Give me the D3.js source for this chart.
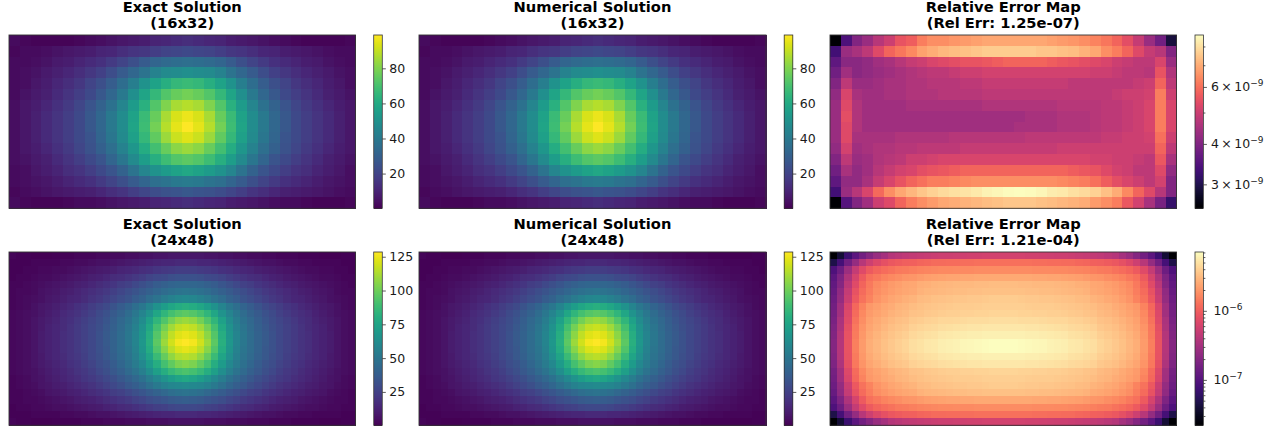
<!DOCTYPE html>
<html><head><meta charset="utf-8">
<script src="https://cdn.jsdelivr.net/npm/d3@7"></script>
<style>html,body{margin:0;padding:0;background:#fff}svg{display:block}text{font-family:"DejaVu Sans",sans-serif}</style>
</head><body><svg id="c" width="1280" height="429"></svg>
<script>
const titleExact="Exact Solution",titleNum="Numerical Solution",titleErr="Relative Error Map";
const sizeLabelTop="(16x32)",sizeLabelBottom="(24x48)";
const errLabelTop="(Rel Err: 1.25e-07)",errLabelBottom="(Rel Err: 1.21e-04)";

const exact16=[
[3,2,1,1,1,1,2,3,4,5,6,7,8,10,11,12,13,12,11,10,8,7,6,5,4,3,2,1,1,1,1,2],
[2,3,3,4,5,6,7,8,10,11,13,15,16,18,20,21,22,21,20,18,16,15,13,11,10,8,7,6,5,4,3,3],
[3,3,4,5,7,8,10,12,14,17,20,24,28,32,34,35,36,35,34,32,28,24,20,17,14,12,10,8,7,5,4,3],
[3,4,5,7,9,11,13,16,19,23,28,33,38,44,47,48,49,48,47,44,38,33,28,23,19,16,13,11,9,7,5,4],
[3,4,6,8,11,13,16,20,24,29,35,42,50,57,62,66,67,66,62,57,50,42,35,29,24,20,16,13,11,8,6,4],
[3,5,7,9,12,15,18,22,27,33,40,49,58,66,72,76,78,76,72,66,58,49,40,33,27,22,18,15,12,9,7,5],
[4,6,8,11,14,17,21,26,31,37,45,54,63,72,80,86,88,86,80,72,63,54,45,37,31,26,21,17,14,11,8,6],
[4,6,9,12,15,18,22,27,33,40,48,57,67,76,86,93,96,93,86,76,67,57,48,40,33,27,22,18,15,12,9,6],
[4,6,9,12,15,18,22,27,33,40,48,58,68,78,88,95,99,95,88,78,68,58,48,40,33,27,22,18,15,12,9,6],
[4,6,9,12,15,18,22,26,32,39,47,56,66,75,84,91,94,91,84,75,66,56,47,39,32,26,22,18,15,12,9,6],
[4,6,8,11,14,17,21,25,30,36,44,52,61,69,76,82,84,82,76,69,61,52,44,36,30,25,21,17,14,11,8,6],
[4,5,7,9,12,15,18,22,26,32,39,47,55,62,68,72,74,72,68,62,55,47,39,32,26,22,18,15,12,9,7,5],
[3,4,6,8,10,13,15,18,22,26,31,38,45,50,54,57,59,57,54,50,45,38,31,26,22,18,15,13,10,8,6,4],
[3,4,5,6,8,10,12,14,17,20,24,28,32,36,38,40,41,40,38,36,32,28,24,20,17,14,12,10,8,6,5,4],
[2,3,4,5,6,7,8,9,11,13,15,18,21,23,25,26,27,26,25,23,21,18,15,13,11,9,8,7,6,5,4,3],
[3,2,1,1,1,2,3,3,4,5,6,7,8,10,11,12,13,12,11,10,8,7,6,5,4,3,3,2,1,1,1,2]];
const numerical16=exact16;
const exactDomain16=[0.2,99];
const exactTicks16=[20,40,60,80];

const error16=[
[25,34,40,43,47,50,55,57,62,65,65,66,67,68,69,69,69,69,69,69,68,67,66,65,63,61,58,54,49,43,38,29],
[33,43,45,48,53,58,61,64,68,70,72,73,74,75,76,76,76,76,76,75,75,74,73,71,69,65,62,58,53,49,47,40],
[36,41,41,42,44,45,47,49,50,52,53,54,55,55,56,57,58,58,58,58,57,56,55,54,53,52,50,49,48,48,52,43],
[38,44,41,42,43,44,45,46,47,48,48,49,50,50,51,51,51,51,51,51,51,51,51,51,50,50,49,48,48,47,55,46],
[40,48,43,43,44,45,45,46,46,47,47,47,48,48,49,49,49,49,49,49,49,49,48,48,48,48,48,48,49,50,58,48],
[42,52,45,44,44,45,45,46,46,46,47,47,47,47,48,48,48,48,48,48,48,48,48,48,48,48,49,50,50,51,62,50],
[43,53,46,44,44,44,44,45,45,45,45,45,45,45,46,46,46,46,46,46,46,47,47,47,47,48,48,49,50,52,62,52],
[43,54,46,44,44,44,44,44,44,44,44,44,44,44,44,44,44,44,45,45,45,46,46,46,47,48,48,49,50,52,62,52],
[43,53,46,44,44,44,44,44,44,44,44,44,44,44,44,44,44,45,45,45,45,46,46,46,47,48,48,49,50,52,62,52],
[43,53,45,45,45,45,46,46,46,46,46,47,47,47,47,47,47,47,48,48,48,48,48,48,48,49,49,50,50,51,60,50],
[42,51,44,45,46,46,47,47,48,48,48,48,49,49,49,49,49,49,49,49,49,50,50,50,50,50,50,50,50,50,58,48],
[40,48,43,44,46,47,48,50,50,51,52,52,52,52,52,52,52,52,52,52,52,52,52,52,51,51,50,50,49,48,56,45],
[38,45,42,44,47,49,51,52,54,55,56,57,58,58,58,58,58,58,58,58,58,58,57,56,55,53,51,50,48,48,53,42],
[36,42,42,45,49,52,55,58,60,62,62,63,64,65,65,65,65,65,65,65,65,64,63,62,60,57,54,52,50,48,51,40],
[33,43,47,52,59,65,69,72,75,77,79,80,81,82,84,85,86,87,86,85,83,82,80,79,77,74,70,64,58,53,47,40],
[25,35,40,44,50,53,58,62,65,67,69,70,71,72,73,74,75,75,75,74,73,72,71,70,67,65,62,56,51,45,39,32]];
const errorDomain16=[25.3,86.8];   // units of 1e-10
const errorMajor16=[[30,"3"],[40,"4"],[60,"6"]];
const errorMinor16=[50,70,80];

const exact24=[
[2,1,1,0.5,0.5,0.5,1,1,1,2,2,2,3,3,4,4,5,5,6,6,7,7,8,8,8,8,8,7,7,6,6,5,5,4,4,3,3,2,2,2,1,1,1,0.5,0.5,0.5,1,1],
[1,1,1,2,2,2,2,3,3,4,4,5,6,6,7,8,9,10,11,12,13,14,14,15,15,15,14,14,13,12,11,10,9,8,7,6,6,5,4,4,3,3,2,2,2,2,1,1],
[1,1,2,2,3,3,4,4,5,6,7,8,9,10,11,13,14,15,17,18,20,21,22,23,23,23,22,21,20,18,17,15,14,13,11,10,9,8,7,6,5,4,4,3,3,2,2,1],
[1,2,2,3,4,4,5,6,7,8,9,11,12,14,16,17,19,21,23,26,28,29,31,32,32,32,31,29,28,26,23,21,19,17,16,14,12,11,9,8,7,6,5,4,4,3,2,2],
[2,2,3,4,5,6,7,8,9,11,12,14,16,18,20,23,25,28,31,34,37,39,41,42,42,42,41,39,37,34,31,28,25,23,20,18,16,14,12,11,9,8,7,6,5,4,3,2],
[2,3,3,4,6,7,8,10,11,13,15,17,19,21,24,27,30,33,36,39,42,45,47,49,50,49,47,45,42,39,36,33,30,27,24,21,19,17,15,13,11,10,8,7,6,4,3,3],
[2,3,4,5,6,8,9,11,13,14,16,19,21,24,27,30,33,37,40,45,49,53,56,59,60,59,56,53,49,45,40,37,33,30,27,24,21,19,16,14,13,11,9,8,6,5,4,3],
[2,3,4,6,8,9,11,13,15,18,20,23,26,29,33,37,41,46,51,58,65,71,76,79,81,79,76,71,65,58,51,46,41,37,33,29,26,23,20,18,15,13,11,9,8,6,4,3],
[3,4,5,6,8,10,12,15,17,19,22,25,29,32,36,40,45,51,58,66,76,84,90,94,96,94,90,84,76,66,58,51,45,40,36,32,29,25,22,19,17,15,12,10,8,6,5,4],
[3,4,5,7,9,11,13,16,18,21,24,27,30,34,38,43,48,54,62,73,84,93,101,107,109,107,101,93,84,73,62,54,48,43,38,34,30,27,24,21,18,16,13,11,9,7,5,4],
[3,4,5,7,9,12,14,16,19,22,25,28,31,35,39,44,50,56,65,77,90,101,110,116,118,116,110,101,90,77,65,56,50,44,39,35,31,28,25,22,19,16,14,12,9,7,5,4],
[3,4,5,7,10,12,14,17,19,22,25,28,32,36,40,45,51,58,67,80,94,106,116,122,124,122,116,106,94,80,67,58,51,45,40,36,32,28,25,22,19,17,14,12,10,7,5,4],
[3,4,5,7,10,12,14,17,19,22,25,28,32,36,40,45,51,58,68,81,96,109,119,126,128,126,119,109,96,81,68,58,51,45,40,36,32,28,25,22,19,17,14,12,10,7,5,4],
[3,4,5,7,10,12,14,17,19,22,25,28,32,35,40,45,50,57,67,79,93,105,115,121,123,121,115,105,93,79,67,57,50,45,40,35,32,28,25,22,19,17,14,12,10,7,5,4],
[3,4,5,7,9,12,14,16,19,21,24,28,31,35,39,44,49,55,64,75,87,98,107,113,115,113,107,98,87,75,64,55,49,44,39,35,31,28,24,21,19,16,14,12,9,7,5,4],
[3,4,5,7,9,11,13,15,18,20,23,26,30,33,37,42,47,53,60,70,80,90,97,103,105,103,97,90,80,70,60,53,47,42,37,33,30,26,23,20,18,15,13,11,9,7,5,4],
[3,4,5,6,8,10,12,14,16,19,21,24,28,31,35,39,44,49,55,63,72,80,86,90,92,90,86,80,72,63,55,49,44,39,35,31,28,24,21,19,16,14,12,10,8,6,5,4],
[2,3,4,6,7,9,11,13,15,17,20,22,25,28,31,35,39,43,48,54,60,66,71,75,77,75,71,66,60,54,48,43,39,35,31,28,25,22,20,17,15,13,11,9,7,6,4,3],
[2,3,4,5,7,8,10,11,13,15,17,19,22,25,28,31,35,38,42,47,52,56,59,60,61,60,59,56,52,47,42,38,35,31,28,25,22,19,17,15,13,11,10,8,7,5,4,3],
[2,2,3,4,5,7,8,9,11,12,14,16,18,20,23,25,28,31,34,37,40,43,46,48,49,48,46,43,40,37,34,31,28,25,23,20,18,16,14,12,11,9,8,7,5,4,3,2],
[2,2,3,3,4,5,6,7,8,10,11,12,14,16,18,20,22,25,27,30,32,34,36,37,38,37,36,34,32,30,27,25,22,20,18,16,14,12,11,10,8,7,6,5,4,3,3,2],
[1,2,2,3,3,4,5,5,6,7,8,9,10,12,13,15,16,18,20,22,24,25,27,28,28,28,27,25,24,22,20,18,16,15,13,12,10,9,8,7,6,5,5,4,3,3,2,2],
[1,1,1,2,2,2,2,3,3,4,4,5,6,6,7,8,9,10,11,12,13,14,14,15,15,15,14,14,13,12,11,10,9,8,7,6,6,5,4,4,3,3,2,2,2,2,1,1],
[2,1,1,0.5,0.5,0.5,1,1,1,1,2,2,2,3,3,3,4,4,4,5,5,5,6,6,6,6,6,5,5,5,4,4,4,3,3,3,2,2,2,1,1,1,1,0.5,0.5,0.5,1,1]];
const numerical24=exact24;
const exactDomain24=[0.3,128.5];
const exactTicks24=[25,50,75,100,125];

const error24=[
[2.2,3.9,7,11,15,20,26,31,39,42,45,47,49,50,52,53,54,55,56,57,58,59,59,59,59,59,59,58,57,56,55,54,53,52,50,49,47,45,42,39,31,26,20,15,11,7,3.9,2.2],
[4.7,8,15,25,40,55,68,80,90,97,101,104,110,114,117,119,121,122,123,124,125,126,126,126,126,126,126,125,124,123,122,121,119,117,114,110,104,101,97,90,80,68,55,40,25,15,8,4.7],
[9,14,27,48,72,95,110,120,130,140,144,152,157,162,164,168,171,172,174,175,176,177,178,178,178,178,177,176,175,174,172,171,168,164,162,157,152,144,140,130,120,110,95,72,48,27,14,9],
[11,18,36,62,95,125,143,157,171,183,192,200,214,221,229,232,238,240,242,245,247,249,250,251,251,250,249,247,245,242,240,238,232,229,221,214,200,192,183,171,157,143,125,95,62,36,18,11],
[12,20,42,72,108,141,172,190,207,221,235,245,265,275,285,291,298,302,306,308,311,315,317,318,318,317,315,311,308,306,302,298,291,285,275,265,245,235,221,207,190,172,141,108,72,42,20,12],
[13,23,48,82,118,147,180,198,215,231,245,256,280,288,300,303,312,318,320,323,326,330,334,334,334,334,330,326,323,320,318,312,303,300,288,280,256,245,231,215,198,180,147,118,82,48,23,13],
[14,25,52,92,130,160,196,215,237,253,272,285,310,320,333,338,352,356,360,364,368,373,378,378,378,378,373,368,364,360,356,352,338,333,320,310,285,272,253,237,215,196,160,130,92,52,25,14],
[15,29,64,112,160,202,223,245,263,283,297,322,333,350,355,365,373,378,382,386,392,395,395,395,395,395,395,392,386,382,378,373,365,355,350,333,322,297,283,263,245,223,202,160,112,64,29,15],
[16,30,68,118,168,210,232,256,277,297,311,338,352,368,375,390,395,400,405,410,417,420,423,423,423,423,420,417,410,405,400,395,390,375,368,352,338,311,297,277,256,232,210,168,118,68,30,16],
[17,33,72,128,182,227,252,280,302,323,340,373,392,405,417,435,441,452,458,465,468,471,475,475,475,475,471,468,465,458,452,441,435,417,405,392,373,340,323,302,280,252,227,182,128,72,33,17],
[18,35,78,138,194,240,268,300,323,350,368,408,430,450,462,483,490,500,510,520,525,532,535,535,535,535,532,525,520,510,500,490,483,462,450,430,408,368,350,323,300,268,240,194,138,78,35,18],
[19,38,82,144,203,253,285,318,345,373,395,445,468,490,505,530,545,555,570,580,590,595,600,600,600,600,595,590,580,570,555,545,530,505,490,468,445,395,373,345,318,285,253,203,144,82,38,19],
[20,39,85,150,212,266,300,334,364,395,423,475,503,533,550,585,597,615,638,652,670,690,710,710,710,710,690,670,652,638,615,597,585,550,533,503,475,423,395,364,334,300,266,212,150,85,39,20],
[20,39,85,150,212,266,300,334,364,395,423,475,503,533,550,585,597,615,638,652,670,690,710,710,710,710,690,670,652,638,615,597,585,550,533,503,475,423,395,364,334,300,266,212,150,85,39,20],
[19,38,82,144,203,253,285,318,345,373,395,445,468,490,505,530,545,555,570,580,590,595,600,600,600,600,595,590,580,570,555,545,530,505,490,468,445,395,373,345,318,285,253,203,144,82,38,19],
[18,35,78,138,194,240,268,300,323,350,368,408,430,450,462,483,490,500,510,520,525,532,535,535,535,535,532,525,520,510,500,490,483,462,450,430,408,368,350,323,300,268,240,194,138,78,35,18],
[16,30,68,118,168,210,232,256,277,297,311,338,352,368,375,390,395,400,405,410,417,420,423,423,423,423,420,417,410,405,400,395,390,375,368,352,338,311,297,277,256,232,210,168,118,68,30,16],
[15,29,64,112,160,202,223,245,263,283,297,322,333,350,355,365,373,378,382,386,392,395,395,395,395,395,395,392,386,382,378,373,365,355,350,333,322,297,283,263,245,223,202,160,112,64,29,15],
[14,25,52,92,130,160,196,215,237,253,272,285,310,320,333,338,352,356,360,364,368,373,378,378,378,378,373,368,364,360,356,352,338,333,320,310,285,272,253,237,215,196,160,130,92,52,25,14],
[13,23,48,82,118,147,180,198,215,231,245,256,280,288,300,303,312,318,320,323,326,330,334,334,334,334,330,326,323,320,318,312,303,300,288,280,256,245,231,215,198,180,147,118,82,48,23,13],
[11,18,36,62,95,125,143,157,171,183,192,200,214,221,229,232,238,240,242,245,247,249,250,251,251,250,249,247,245,242,240,238,232,229,221,214,200,192,183,171,157,143,125,95,62,36,18,11],
[9,14,27,48,72,95,110,120,130,140,144,152,157,162,164,168,171,172,174,175,176,177,178,178,178,178,177,176,175,174,172,171,168,164,162,157,152,144,140,130,120,110,95,72,48,27,14,9],
[4.7,8,15,25,40,55,68,80,90,97,101,104,110,114,117,119,121,122,123,124,125,126,126,126,126,126,126,125,124,123,122,121,119,117,114,110,104,101,97,90,80,68,55,40,25,15,8,4.7],
[2.2,3.9,7,11,15,20,26,31,39,42,45,47,49,50,52,53,54,55,56,57,58,59,59,59,59,59,59,58,57,56,55,54,53,52,50,49,47,45,42,39,31,26,20,15,11,7,3.9,2.2]];
const errorDomain24=[2.2,710];   // units of 1e-8
const errorMajor24=[[10,"10","-7"],[100,"10","-6"]];
const errorMinor24=[3,4,5,6,7,8,9,20,30,40,50,60,70,80,90,200,300,400,500,600,700];

const svg=d3.select("#c");
const panelX=[[9,355.5],[419,766],[830,1176.5]];
const barX=[[373.7,382.3],[784.2,792.8],[1195,1203.4]];
const rowY=[[35,208.3],[252,425.3]];
const titleY=[[11.5,28],[228.5,245]];
const ink="#1a1a1a";

function heat(px,py,rows,color){
  const nc=rows[0].length,nr=rows.length;
  const x=d3.scaleBand().domain(d3.range(nc)).range(px);
  const y=d3.scaleBand().domain(d3.range(nr)).range(py);
  const g=svg.append("g").attr("shape-rendering","crispEdges");
  const cells=rows.flatMap((row,r)=>row.map((v,c)=>({r,c,v})));
  g.selectAll("rect").data(cells).join("rect")
    .attr("x",d=>x(d.c)).attr("y",d=>y(d.r))
    .attr("width",x.bandwidth()+0.5).attr("height",y.bandwidth()+0.5)
    .attr("fill",d=>color(d.v));
  svg.append("rect").attr("x",px[0]).attr("y",py[0]).attr("width",px[1]-px[0]).attr("height",py[1]-py[0])
    .attr("fill","none").attr("stroke","#333").attr("stroke-width",0.9);
}
function titles(px,ty,a,b){
  const cx=(px[0]+px[1])/2;
  [a,b].forEach((t,i)=>svg.append("text").attr("x",cx).attr("y",ty[i]).attr("text-anchor","middle")
    .attr("font-size",14.7).attr("font-weight","bold").attr("fill","#000").text(t));
}
function colorbar(bx,py,yScale,color){
  const steps=d3.range(0,256);
  const [lo,hi]=py;
  const h=(hi-lo)/256;
  const g=svg.append("g").attr("shape-rendering","crispEdges");
  g.selectAll("rect").data(steps).join("rect")
    .attr("x",bx[0]).attr("width",bx[1]-bx[0])
    .attr("y",i=>lo+i*h).attr("height",h+0.6)
    .attr("fill",i=>color(yScale.invert(lo+(i+0.5)*h)));
  svg.append("rect").attr("x",bx[0]).attr("y",lo).attr("width",bx[1]-bx[0]).attr("height",hi-lo)
    .attr("fill","none").attr("stroke","#333").attr("stroke-width",0.8);
}
function styleAxis(g){
  g.select(".domain").remove();
  g.selectAll("line").attr("stroke","#333").attr("stroke-width",0.8);
  g.selectAll("text").attr("font-size",12.5).attr("fill",ink).attr("font-family",'"DejaVu Sans",sans-serif');
}
function linearBar(bx,py,domain,ticks){
  const y=d3.scaleLinear().domain(domain).range([py[1],py[0]]);
  const color=d3.scaleSequential(d3.interpolateViridis).domain(domain);
  colorbar(bx,py,y,color);
  const g=svg.append("g").attr("transform",`translate(${bx[1]},0)`)
    .call(d3.axisRight(y).tickValues(ticks).tickSize(3.5).tickPadding(3.5));
  styleAxis(g);
}
function logBar(bx,py,domain,major,minor,isSci){
  const y=d3.scaleLog().domain(domain).range([py[1],py[0]]);
  const color=d3.scaleSequentialLog(d3.interpolateMagma).domain(domain);
  colorbar(bx,py,y,color);
  const gm=svg.append("g").attr("transform",`translate(${bx[1]},0)`)
    .call(d3.axisRight(y).tickValues(minor).tickSize(2).tickFormat(""));
  styleAxis(gm);
  const g=svg.append("g").attr("transform",`translate(${bx[1]},0)`)
    .call(d3.axisRight(y).tickValues(major.map(m=>m[0])).tickSize(3.5).tickFormat(""));
  styleAxis(g);
  major.forEach(m=>{
    const t=svg.append("text").attr("x",bx[1]+(isSci?7.5:10)).attr("y",y(m[0])+4.5)
      .attr("font-size",12.5).attr("fill",ink);
    if(isSci){
      t.append("tspan").text(m[1]);
      t.append("tspan").attr("dx",2.5).text("\u00d7");
      t.append("tspan").attr("dx",2.5).text("10");
      t.append("tspan").attr("dy",-5).attr("font-size",9).text("\u22129");
    }else{
      t.append("tspan").text(m[1]);
      t.append("tspan").attr("dy",-5).attr("font-size",9).text(m[2].replace("-","\u2212"));
    }
  });
}
const panels=[
 {row:0,rows:[exact16,numerical16,error16],dom:exactDomain16,ticks:exactTicks16,edom:errorDomain16,maj:errorMajor16,min:errorMinor16,size:sizeLabelTop,err:errLabelTop,sci:true},
 {row:1,rows:[exact24,numerical24,error24],dom:exactDomain24,ticks:exactTicks24,edom:errorDomain24,maj:errorMajor24,min:errorMinor24,size:sizeLabelBottom,err:errLabelBottom,sci:false}
];
panels.forEach(p=>{
  const py=rowY[p.row],ty=titleY[p.row];
  const vir=d3.scaleSequential(d3.interpolateViridis).domain(p.dom);
  const mag=d3.scaleSequentialLog(d3.interpolateMagma).domain(p.edom);
  heat(panelX[0],py,p.rows[0],vir);
  heat(panelX[1],py,p.rows[1],vir);
  heat(panelX[2],py,p.rows[2],mag);
  titles(panelX[0],ty,titleExact,p.size);
  titles(panelX[1],ty,titleNum,p.size);
  titles(panelX[2],ty,titleErr,p.err);
  linearBar(barX[0],py,p.dom,p.ticks);
  linearBar(barX[1],py,p.dom,p.ticks);
  logBar(barX[2],py,p.edom,p.maj,p.min,p.sci);
});
</script></body></html>
